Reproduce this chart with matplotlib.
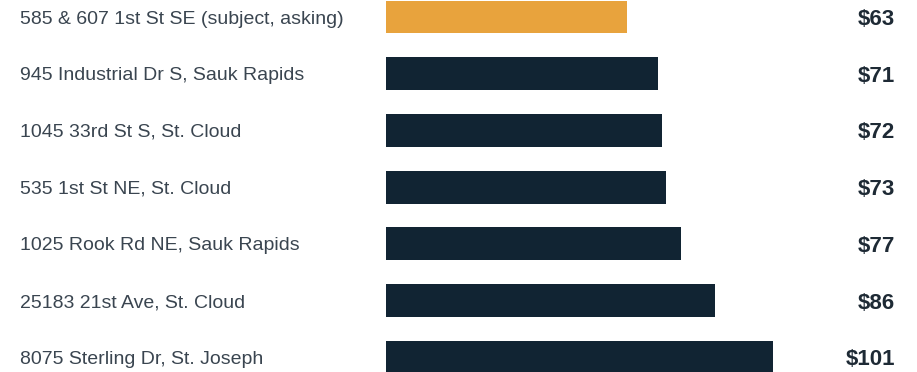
import matplotlib
matplotlib.use("Agg")
import matplotlib.pyplot as plt
import matplotlib.transforms as mtransforms

# data
addresses = [
    "585 & 607 1st St SE (subject, asking)",
    "945 Industrial Dr S, Sauk Rapids",
    "1045 33rd St S, St. Cloud",
    "535 1st St NE, St. Cloud",
    "1025 Rook Rd NE, Sauk Rapids",
    "25183 21st Ave, St. Cloud",
    "8075 Sterling Dr, St. Joseph",
]
rents = [63, 71, 72, 73, 77, 86, 101]
value_labels = ["$63", "$71", "$72", "$73", "$77", "$86", "$101"]

subject_color = "#E8A33D"
comp_color = "#112433"
text_color = "#3A4550"

plt.rcParams["font.family"] = ["Liberation Sans", "DejaVu Sans"]

W, H = 917, 372
fig = plt.figure(figsize=(W / 100, H / 100), dpi=100)
ax = fig.add_axes([386 / W, 0, 1 - 386 / W, 1])

colors = [subject_color] + [comp_color] * (len(rents) - 1)
ypos = list(range(len(rents)))
ax.barh(ypos, rents, height=0.58, color=colors)

ax.set_xlim(0, (W - 386) / 3.83)
ax.set_ylim(6.26, -0.30)
ax.axis("off")

# labels on the left and values on the right
trans = mtransforms.blended_transform_factory(fig.transFigure, ax.transData)
for i in ypos:
    ax.text(20 / W, i, addresses[i], transform=trans, ha="left",
            va="center_baseline", fontsize=14, color=text_color)
    ax.text(895 / W, i, value_labels[i], transform=trans, ha="right",
            va="center_baseline", fontsize=16, fontweight="bold", color="#1E2A35")

fig.savefig("out.png", dpi=100, facecolor="white")
